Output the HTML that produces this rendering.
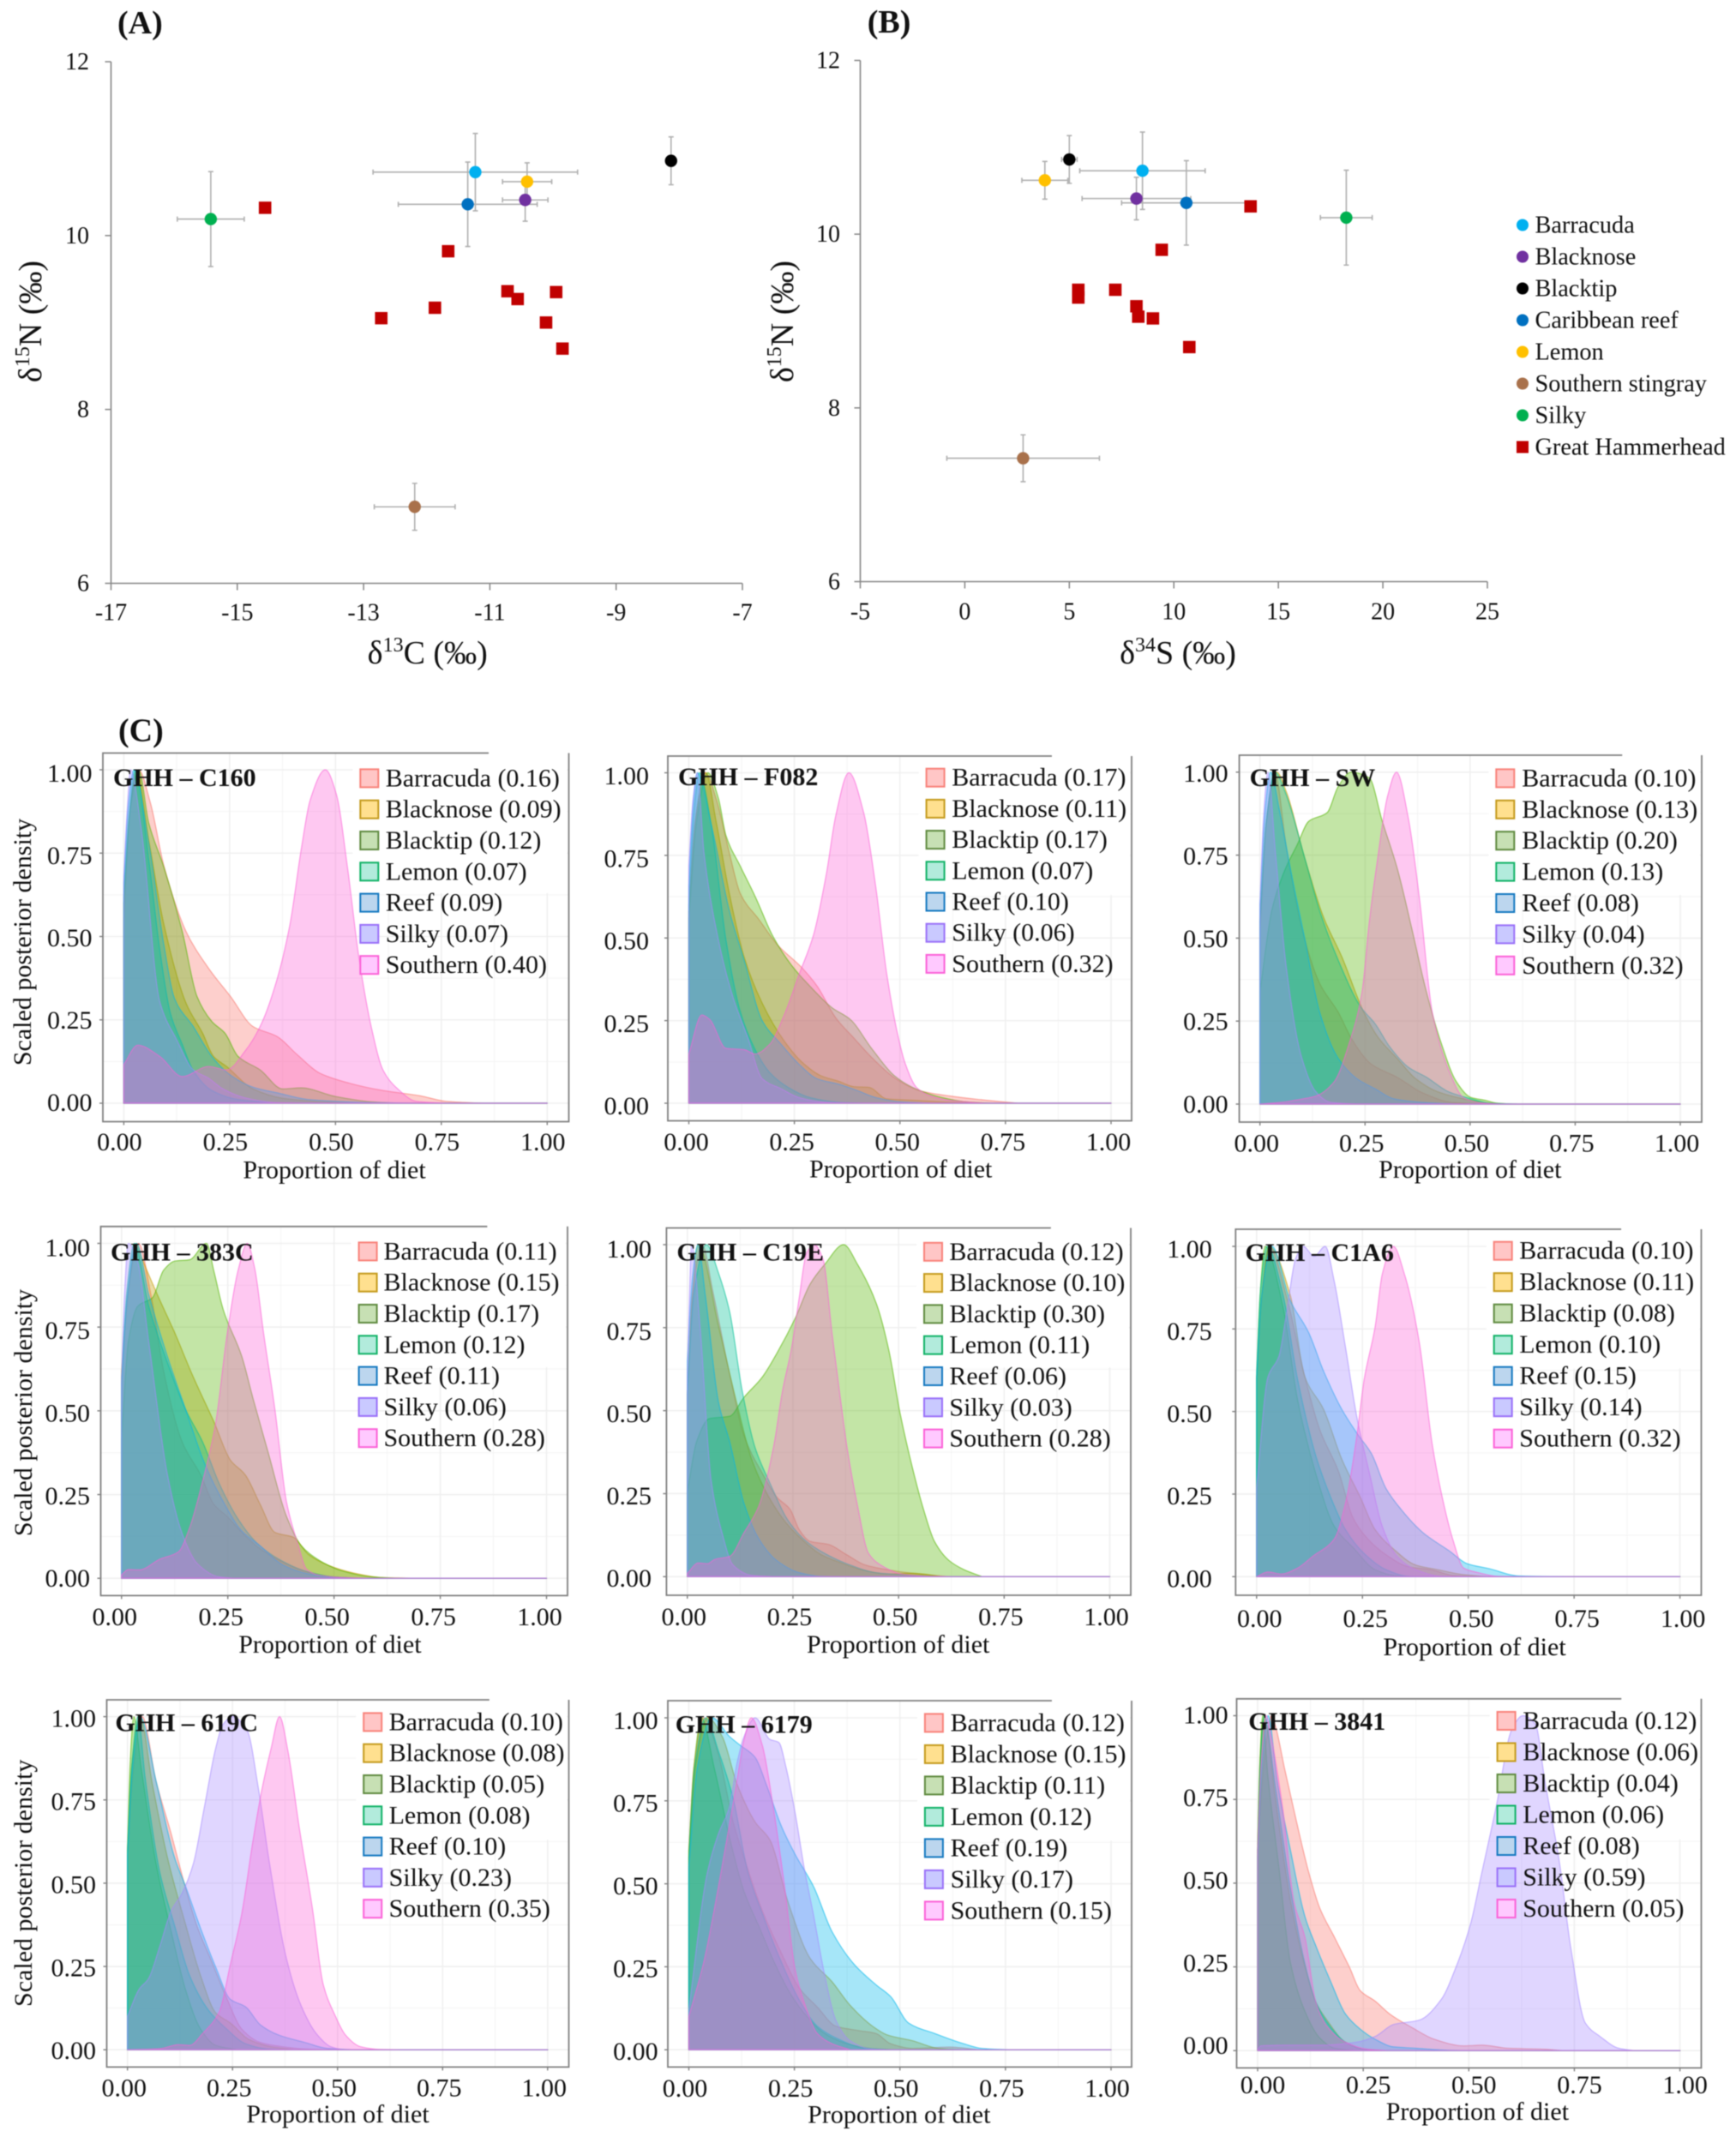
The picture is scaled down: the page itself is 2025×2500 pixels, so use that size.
<!DOCTYPE html>
<html lang="en">
<head>
<meta charset="utf-8">
<title>Great hammerhead isotope biplots and diet mixing model posteriors</title>
<style>
html,body{margin:0;padding:0;background:#fff;}
svg{display:block;filter:blur(0.45px);}
text{font-family:"Liberation Serif","Times New Roman",serif;fill:#111;}
</style>
</head>
<body>
<svg id="figure" xmlns="http://www.w3.org/2000/svg" width="2025" height="2500" viewBox="0 0 2025 2500">
<rect x="0" y="0" width="2025" height="2500" fill="#ffffff"/>
</svg>
<script>
/* ---------- Scatter data ---------- */
const preyNames = ["Barracuda","Blacknose","Blacktip","Caribbean reef","Lemon","Southern stingray","Silky"];
const preyColors = ["#00B0F0","#7030A0","#000000","#0070C0","#FFC000","#A9714B","#00B050"];
const preyD13C = [-11.23,-10.44,-8.13,-11.35,-10.41,-12.19,-15.42];
const preyD13CErr = [1.62,0.36,0,1.1,0.39,0.64,0.53];
const preyD34S = [8.5,8.21,5.0,10.6,3.83,2.79,18.25];
const preyD34SErr = [3.0,2.6,0.37,3.1,1.1,3.65,1.24];
const preyD15NA = [10.73,10.41,10.86,10.36,10.62,6.88,10.19];
const preyD15NB = [10.73,10.41,10.86,10.36,10.62,7.42,10.19];
const preyD15NErr = [0.445,0.245,0.275,0.486,0.217,0.27,0.546];
const hammerD13C = [-14.56,-11.66,-10.72,-10.56,-9.95,-11.87,-12.72,-10.11,-9.85];
const hammerD34S = [13.67,9.42,5.43,5.43,7.2,8.21,8.3,9.0,10.74];
const hammerD15NA = [10.32,9.82,9.36,9.27,9.35,9.17,9.05,9.0,8.7];
const hammerD15NB = [10.32,9.82,9.36,9.27,9.36,9.17,9.05,9.03,8.7];
const panelATicksX = [-17,-15,-13,-11,-9,-7];
const panelBTicksX = [-5,0,5,10,15,20,25];
const scatterTicksY = [6,8,10,12];
const scatterLegendNames = ["Barracuda","Blacknose","Blacktip","Caribbean reef","Lemon","Southern stingray","Silky","Great Hammerhead"];

/* ---------- Density panels: categories and shares ---------- */
const sourceNames = ["Barracuda","Blacknose","Blacktip","Lemon","Reef","Silky","Southern"];
const proportionTicks = [0,0.25,0.5,0.75,1];
const densityTicks = [0,0.25,0.5,0.75,1];
const sharesC160 = [0.16,0.09,0.12,0.07,0.09,0.07,0.40];
const sharesF082 = [0.17,0.11,0.17,0.07,0.10,0.06,0.32];
const sharesSW = [0.10,0.13,0.20,0.13,0.08,0.04,0.32];
const shares383C = [0.11,0.15,0.17,0.12,0.11,0.06,0.28];
const sharesC19E = [0.12,0.10,0.30,0.11,0.06,0.03,0.28];
const sharesC1A6 = [0.10,0.11,0.08,0.10,0.15,0.14,0.32];
const shares619C = [0.10,0.08,0.05,0.08,0.10,0.23,0.35];
const shares6179 = [0.12,0.15,0.11,0.12,0.19,0.17,0.15];
const shares3841 = [0.12,0.06,0.04,0.06,0.08,0.59,0.05];

/* ---------- Density curves, [proportion, scaled density] ---------- */
const c160Barracuda=[[0,.55],[.015,.88],[.035,1],[.063,.9],[.094,.716],[.147,.515],[.2,.405],[.252,.32],[.305,.23],[.362,.2],[.41,.145],[.463,.09],[.533,.06],[.603,.04],[.7,.022],[.76,.006],[.85,0]];
const c160Blacknose=[[0,.6],[.012,.85],[.03,1],[.059,.79],[.094,.54],[.147,.3],[.186,.21],[.212,.14],[.243,.11],[.305,.043],[.375,.015],[.45,.006],[.55,0]];
const c160Blacktip=[[0,.6],[.015,.88],[.035,1],[.059,.84],[.094,.71],[.138,.515],[.173,.32],[.208,.245],[.239,.21],[.27,.14],[.322,.1],[.375,.043],[.419,.046],[.5,.02],[.585,.004],[.65,0]];
const c160Lemon=[[0,.62],[.012,.85],[.027,1],[.059,.73],[.085,.46],[.11,.27],[.138,.176],[.164,.098],[.208,.038],[.27,.011],[.366,0]];
const c160Reef=[[0,.66],[.01,.88],[.024,1],[.059,.78],[.094,.48],[.12,.313],[.164,.23],[.208,.14],[.252,.084],[.305,.048],[.366,.03],[.436,.011],[.585,.002],[.7,0]];
const c160Silky=[[0,.68],[.008,.88],[.016,1],[.041,.826],[.085,.304],[.125,.19],[.164,.1],[.2,.075],[.234,.043],[.287,.016],[.357,.002],[.42,0]];
const c160Southern=[[0,.116],[.033,.174],[.085,.14],[.138,.08],[.2,.11],[.243,.1],[.287,.157],[.322,.23],[.357,.35],[.392,.533],[.419,.76],[.44,.908],[.476,1],[.502,.927],[.529,.7],[.555,.44],[.586,.22],[.612,.1],[.647,.043],[.69,.006],[.76,0]];

const f082Barracuda=[[0,.58],[.015,.85],[.04,1],[.065,.92],[.096,.757],[.122,.634],[.166,.556],[.209,.481],[.27,.407],[.304,.354],[.348,.258],[.391,.197],[.435,.136],[.495,.07],[.547,.038],[.617,.022],[.703,.009],[.78,0]];
const f082Blacknose=[[0,.58],[.015,.85],[.04,1],[.065,.85],[.096,.634],[.131,.442],[.174,.302],[.226,.188],[.27,.122],[.313,.083],[.356,.066],[.391,.05],[.426,.048],[.469,.013],[.53,.009],[.617,.003],[.7,0]];
const f082Blacktip=[[0,.56],[.018,.85],[.045,1],[.07,.923],[.088,.81],[.122,.717],[.157,.626],[.2,.503],[.244,.416],[.287,.354],[.339,.289],[.382,.254],[.435,.162],[.487,.083],[.53,.048],[.6,.017],[.66,.004],[.72,0]];
const f082Lemon=[[0,.6],[.012,.88],[.025,1],[.053,.844],[.088,.494],[.122,.276],[.157,.162],[.192,.092],[.235,.048],[.287,.017],[.356,.003],[.42,0]];
const f082Reef=[[0,.66],[.01,.9],[.02,1],[.053,.844],[.096,.582],[.131,.433],[.174,.249],[.218,.179],[.261,.118],[.304,.074],[.356,.057],[.4,.038],[.443,.017],[.504,.004],[.58,0]];
const f082Silky=[[0,.72],[.01,.92],[.02,1],[.036,.757],[.07,.494],[.105,.319],[.14,.197],[.174,.074],[.218,.044],[.261,.017],[.322,.003],[.4,0]];
const f082Southern=[[0,.149],[.031,.267],[.049,.254],[.088,.166],[.131,.162],[.157,.149],[.192,.179],[.226,.267],[.261,.389],[.296,.512],[.326,.696],[.348,.87],[.379,1],[.414,.88],[.443,.652],[.469,.389],[.495,.206],[.513,.118],[.539,.048],[.573,.022],[.617,.009],[.703,0]];

const swBarracuda=[[0,.52],[.015,.85],[.035,1],[.063,.773],[.098,.538],[.142,.364],[.186,.277],[.221,.19],[.265,.12],[.326,.081],[.388,.033],[.458,.005],[.55,0]];
const swBlacknose=[[0,.55],[.015,.85],[.04,1],[.063,.94],[.107,.739],[.151,.564],[.195,.443],[.247,.277],[.282,.199],[.326,.138],[.37,.077],[.423,.037],[.484,.016],[.546,.003],[.62,0]];
const swBlacktip=[[0,.338],[.028,.582],[.059,.704],[.089,.782],[.116,.852],[.16,.878],[.186,.956],[.217,1],[.26,.983],[.291,.852],[.326,.713],[.361,.53],[.396,.338],[.432,.181],[.467,.068],[.502,.02],[.537,.011],[.563,.003],[.6,0]];
const swLemon=[[0,.55],[.015,.85],[.036,1],[.06,.94],[.107,.739],[.142,.582],[.186,.434],[.239,.294],[.274,.242],[.309,.172],[.353,.111],[.396,.081],[.449,.037],[.502,.016],[.546,.003],[.62,0]];
const swReef=[[0,.6],[.012,.88],[.025,1],[.046,.887],[.072,.712],[.107,.495],[.142,.277],[.186,.138],[.23,.077],[.274,.046],[.318,.016],[.388,.005],[.47,0]];
const swSilky=[[0,.6],[.008,.85],[.019,1],[.037,.756],[.063,.408],[.098,.146],[.133,.037],[.168,.005],[.23,0]];
const swSouthern=[[0,0],[.063,.007],[.081,.011],[.133,.024],[.177,.068],[.212,.181],[.243,.338],[.26,.547],[.278,.721],[.304,.93],[.325,1],[.353,.861],[.379,.625],[.41,.277],[.449,.103],[.484,.02],[.519,.005],[.57,0]];

const c383Barracuda=[[0,.6],[.015,.85],[.04,1],[.07,.84],[.099,.618],[.143,.406],[.186,.309],[.217,.221],[.248,.185],[.283,.137],[.326,.088],[.379,.049],[.44,.018],[.5,.004],[.56,0]];
const c383Blacknose=[[0,.62],[.015,.85],[.035,1],[.046,.962],[.081,.856],[.125,.733],[.169,.6],[.217,.468],[.256,.353],[.291,.309],[.326,.221],[.361,.137],[.405,.122],[.44,.071],[.484,.04],[.545,.016],[.615,.002],[.7,0]];
const c383Blacktip=[[0,.415],[.016,.706],[.038,.812],[.073,.838],[.099,.92],[.125,.947],[.16,.951],[.2,1],[.217,.918],[.239,.803],[.283,.662],[.309,.538],[.344,.38],[.388,.185],[.423,.097],[.466,.053],[.519,.022],[.589,.004],[.65,0]];
const c383Lemon=[[0,.6],[.012,.85],[.03,1],[.064,.812],[.108,.644],[.151,.503],[.191,.406],[.23,.282],[.274,.177],[.318,.106],[.37,.057],[.431,.022],[.5,.004],[.56,0]];
const c383Reef=[[0,.58],[.012,.82],[.035,1],[.064,.847],[.108,.662],[.151,.503],[.195,.344],[.239,.229],[.283,.141],[.326,.097],[.379,.04],[.44,.013],[.5,.002],[.56,0]];
const c383Silky=[[0,.6],[.007,.85],[.016,1],[.038,.944],[.064,.706],[.108,.309],[.143,.132],[.178,.044],[.23,.004],[.265,0]];
const c383Southern=[[0,.01],[.016,.026],[.042,.025],[.09,.057],[.134,.079],[.16,.15],[.191,.291],[.221,.459],[.248,.724],[.274,.918],[.296,1],[.313,.927],[.335,.724],[.361,.503],[.388,.229],[.414,.106],[.436,.026],[.466,.009],[.528,.002],[.58,0]];

const c19eBarracuda=[[0,.55],[.012,.85],[.035,1],[.06,.86],[.1,.611],[.134,.425],[.178,.31],[.212,.239],[.243,.203],[.265,.141],[.291,.106],[.334,.097],[.377,.066],[.421,.035],[.473,.021],[.533,.01],[.62,0]];
const c19eBlacknose=[[0,.55],[.012,.85],[.026,1],[.074,.753],[.117,.523],[.152,.354],[.186,.256],[.23,.168],[.273,.11],[.317,.066],[.36,.043],[.412,.021],[.473,.008],[.533,.01],[.603,0]];
const c19eBlacktip=[[0,.256],[.022,.407],[.052,.476],[.1,.483],[.134,.54],[.178,.602],[.212,.673],[.256,.78],[.291,.882],[.325,.94],[.37,1],[.403,.94],[.447,.824],[.477,.682],[.503,.496],[.533,.327],[.559,.203],[.585,.106],[.62,.048],[.655,.021],[.698,0]];
const c19eLemon=[[0,.55],[.015,.85],[.045,1],[.074,.913],[.1,.798],[.13,.558],[.16,.39],[.195,.283],[.239,.168],[.282,.106],[.325,.07],[.377,.039],[.447,.012],[.533,.004],[.6,0]];
const c19eReef=[[0,.65],[.012,.9],[.025,1],[.043,.842],[.074,.523],[.1,.407],[.134,.221],[.169,.114],[.212,.048],[.265,.012],[.317,.001],[.37,0]];
const c19eSilky=[[0,.6],[.005,.85],[.01,1],[.03,.753],[.056,.292],[.082,.132],[.108,.035],[.152,.004],[.2,0]];
const c19eSouthern=[[0,.01],[.026,.041],[.048,.039],[.065,.052],[.1,.061],[.134,.132],[.169,.212],[.204,.39],[.225,.558],[.247,.691],[.265,.842],[.282,.974],[.3,1],[.321,.957],[.343,.727],[.36,.558],[.377,.398],[.403,.212],[.429,.07],[.464,.03],[.507,.008],[.577,.001],[.63,0]];

const c1a6Barracuda=[[0,.6],[.012,.85],[.03,1],[.071,.846],[.114,.605],[.149,.445],[.193,.32],[.228,.177],[.262,.115],[.306,.066],[.358,.03],[.411,.021],[.463,.004],[.52,0]];
const c1a6Blacknose=[[0,.6],[.012,.85],[.03,1],[.079,.855],[.114,.605],[.158,.507],[.201,.356],[.245,.24],[.28,.142],[.323,.084],[.376,.035],[.428,.021],[.489,.006],[.55,0]];
const c1a6Blacktip=[[0,.6],[.008,.85],[.02,1],[.062,.819],[.097,.534],[.14,.311],[.184,.151],[.228,.088],[.28,.021],[.323,.004],[.37,0]];
const c1a6Lemon=[[0,.62],[.01,.88],[.025,1],[.062,.855],[.097,.596],[.14,.365],[.175,.24],[.21,.142],[.254,.07],[.306,.021],[.358,.001],[.4,0]];
const c1a6Reef=[[0,.6],[.012,.85],[.036,1],[.079,.837],[.123,.739],[.158,.623],[.201,.507],[.241,.427],[.271,.373],[.306,.266],[.341,.204],[.393,.133],[.454,.079],[.498,.039],[.55,.024],[.62,.002],[.74,0]];
const c1a6Silky=[[0,.27],[.027,.605],[.053,.668],[.071,.801],[.092,.962],[.11,1],[.136,.97],[.162,1],[.184,.89],[.21,.694],[.236,.489],[.267,.311],[.297,.151],[.332,.061],[.376,.021],[.437,.001],[.5,0]];
const c1a6Southern=[[0,0],[.027,.014],[.058,.008],[.097,.026],[.132,.061],[.184,.115],[.21,.222],[.236,.418],[.254,.596],[.28,.757],[.297,.917],[.323,1],[.349,.917],[.384,.712],[.415,.4],[.437,.249],[.463,.115],[.489,.026],[.524,.012],[.568,.001],[.62,0]];

const c619Barracuda=[[0,.58],[.012,.82],[.035,1],[.068,.807],[.104,.648],[.13,.524],[.165,.373],[.2,.266],[.236,.155],[.272,.062],[.316,.022],[.369,.009],[.422,.002],[.47,0]];
const c619Blacknose=[[0,.6],[.01,.85],[.03,1],[.059,.799],[.095,.577],[.139,.373],[.174,.222],[.21,.111],[.245,.08],[.289,.031],[.342,.009],[.4,0]];
const c619Blacktip=[[0,.6],[.006,.85],[.015,1],[.033,.843],[.068,.559],[.104,.355],[.139,.177],[.174,.062],[.21,.013],[.26,0]];
const c619Lemon=[[0,.6],[.01,.85],[.025,1],[.042,.816],[.077,.532],[.112,.373],[.148,.222],[.192,.12],[.236,.062],[.281,.018],[.334,.002],[.38,0]];
const c619Reef=[[0,.58],[.012,.85],[.03,1],[.068,.807],[.112,.577],[.139,.488],[.174,.364],[.21,.248],[.245,.151],[.281,.129],[.316,.075],[.36,.044],[.422,.022],[.475,.004],[.54,0]];
const c619Silky=[[0,.1],[.028,.182],[.05,.213],[.077,.31],[.104,.417],[.13,.47],[.157,.559],[.183,.728],[.21,.905],[.227,.976],[.25,1],[.285,.958],[.312,.781],[.338,.559],[.378,.275],[.413,.133],[.449,.049],[.484,.009],[.51,0]];
const c619Southern=[[0,0],[.077,.003],[.121,.015],[.148,.013],[.179,.049],[.219,.115],[.245,.257],[.272,.408],[.298,.621],[.32,.781],[.342,.905],[.362,1],[.382,.896],[.409,.665],[.44,.426],[.466,.195],[.493,.106],[.519,.044],[.555,.009],[.6,.001],[.65,0]];

const c6179Barracuda=[[0,.6],[.012,.85],[.035,1],[.07,.89],[.105,.686],[.14,.543],[.174,.419],[.218,.294],[.261,.187],[.304,.129],[.348,.071],[.4,.058],[.443,.049],[.478,.018],[.53,.004],[.617,.008],[.686,0]];
const c6179Blacknose=[[0,.58],[.015,.85],[.045,1],[.079,.944],[.114,.801],[.157,.686],[.192,.632],[.235,.445],[.287,.276],[.339,.205],[.382,.134],[.435,.071],[.469,.045],[.53,.027],[.591,.004],[.65,0]];
const c6179Blacktip=[[0,.6],[.012,.85],[.03,1],[.06,.85],[.1,.62],[.13,.48],[.17,.36],[.2,.27],[.24,.17],[.28,.1],[.32,.05],[.37,.02],[.43,.004],[.48,0]];
const c6179Lemon=[[0,.58],[.014,.85],[.04,1],[.07,.9],[.105,.757],[.14,.534],[.174,.41],[.218,.267],[.261,.151],[.304,.071],[.356,.031],[.417,.004],[.48,0]];
const c6179Reef=[[0,.55],[.02,.85],[.055,1],[.096,.944],[.122,.917],[.157,.881],[.183,.801],[.218,.677],[.252,.588],[.296,.49],[.339,.356],[.391,.258],[.443,.196],[.478,.16],[.521,.08],[.582,.049],[.651,.018],[.695,.004],[.764,0]];
const c6179Silky=[[0,.12],[.044,.534],[.07,.65],[.096,.73],[.114,.862],[.131,.944],[.157,1],[.192,.935],[.213,.926],[.231,.846],[.252,.712],[.274,.543],[.296,.401],[.322,.223],[.348,.089],[.382,.027],[.426,.004],[.47,0]];
const c6179Southern=[[0,.1],[.036,.267],[.07,.49],[.096,.677],[.114,.81],[.131,.935],[.148,1],[.174,.917],[.2,.73],[.226,.499],[.252,.24],[.278,.125],[.304,.049],[.339,.018],[.382,0]];

const c3841Barracuda=[[0,.6],[.014,.85],[.033,1],[.042,.97],[.064,.841],[.094,.673],[.121,.532],[.147,.426],[.182,.338],[.217,.25],[.243,.179],[.278,.148],[.313,.109],[.365,.069],[.418,.034],[.488,.014],[.531,.016],[.593,.007],[.68,.004],[.724,0]];
const c3841Blacknose=[[0,.62],[.006,.88],[.015,1],[.042,.753],[.077,.453],[.112,.25],[.138,.144],[.164,.091],[.208,.025],[.252,.004],[.3,0]];
const c3841Blacktip=[[0,.6],[.005,.85],[.012,1],[.024,.823],[.051,.541],[.077,.267],[.112,.117],[.147,.038],[.182,.007],[.23,0]];
const c3841Lemon=[[0,.6],[.006,.85],[.015,1],[.042,.788],[.077,.488],[.112,.259],[.138,.144],[.173,.069],[.208,.025],[.252,.004],[.3,0]];
const c3841Reef=[[0,.58],[.01,.85],[.025,1],[.046,.806],[.077,.603],[.112,.4],[.138,.312],[.173,.206],[.208,.109],[.243,.064],[.278,.034],[.322,.011],[.374,.007],[.453,.001],[.5,0]];
const c3841Silky=[[0,0],[.007,.014],[.077,.016],[.156,.016],[.234,.025],[.278,.042],[.322,.078],[.383,.091],[.435,.153],[.47,.25],[.505,.382],[.531,.532],[.566,.735],[.601,.956],[.628,1],[.658,.974],[.68,.806],[.715,.559],[.741,.312],[.776,.082],[.811,.042],[.855,.007],[.89,0]];
const c3841Southern=[[0,.6],[.008,.85],[.02,1],[.03,.95],[.059,.726],[.086,.444],[.112,.338],[.138,.144],[.164,.073],[.208,.025],[.26,.004],[.31,0]];

const seriesC160=[c160Barracuda,c160Blacknose,c160Blacktip,c160Lemon,c160Reef,c160Silky,c160Southern];
const seriesF082=[f082Barracuda,f082Blacknose,f082Blacktip,f082Lemon,f082Reef,f082Silky,f082Southern];
const seriesSW=[swBarracuda,swBlacknose,swBlacktip,swLemon,swReef,swSilky,swSouthern];
const series383C=[c383Barracuda,c383Blacknose,c383Blacktip,c383Lemon,c383Reef,c383Silky,c383Southern];
const seriesC19E=[c19eBarracuda,c19eBlacknose,c19eBlacktip,c19eLemon,c19eReef,c19eSilky,c19eSouthern];
const seriesC1A6=[c1a6Barracuda,c1a6Blacknose,c1a6Blacktip,c1a6Lemon,c1a6Reef,c1a6Silky,c1a6Southern];
const series619C=[c619Barracuda,c619Blacknose,c619Blacktip,c619Lemon,c619Reef,c619Silky,c619Southern];
const series6179=[c6179Barracuda,c6179Blacknose,c6179Blacktip,c6179Lemon,c6179Reef,c6179Silky,c6179Southern];
const series3841=[c3841Barracuda,c3841Blacknose,c3841Blacktip,c3841Lemon,c3841Reef,c3841Silky,c3841Southern];

/* ---------- Styles and layout (not data) ---------- */
const sourceColors=["#F8766D","#C49A00","#53B400","#00C094","#00B6EB","#A58AFF","#FB61D7"];
const keyStrokes=["#f8827a","#c49a1c","#5f8a3f","#10b266","#1478c0","#9a70f8","#fb61d7"];
const keyFills=["#ffc6c6","#ffe08f","#c7e0b4","#b2ebdc","#bcd6ee","#c9c9ff","#ffc9ff"];
const panels=[
 {id:"C160",title:"GHH – C160",series:seriesC160,shares:sharesC160,l:120,r:663.5,t:878.5,b:1308.5,x0:144.4,x1:638.3,y1:898,y0:1287,ldx:-5,xlb:1342,yr:107.5,yT:4,yB:-1,kx:419.3,kt:896.4,kp:36.3,tx:449.7,ttx:132,tty:917,xtx:390,xty:1374.5,ytx:36,yty:1099},
 {id:"F082",title:"GHH – F082",series:seriesF082,shares:sharesF082,l:779,r:1320,t:882,b:1307.5,x0:803.5,x1:1296,y1:901.5,y0:1287,ldx:-3,xlb:1342,yr:757,yT:3.7,yB:3,kx:1079.6,kt:895.7,kp:36.2,tx:1110.3,ttx:791,tty:916,xtx:1050.7,xty:1373.3},
 {id:"SW",title:"GHH – SW",series:seriesSW,shares:sharesSW,l:1445.6,r:1985,t:881,b:1309,x0:1469.7,x1:1960,y1:900.8,y0:1288,ldx:-4,xlb:1343.5,yr:1432.6,yT:1,yB:0,kx:1744.3,kt:896.4,kp:36.4,tx:1775.3,ttx:1457.6,tty:917,xtx:1714.8,xty:1374},
 {id:"383C",title:"GHH – 383C",series:series383C,shares:shares383C,l:117.5,r:662,t:1430.8,b:1861.4,x0:141.8,x1:637.5,y1:1450.5,y0:1841.2,ldx:-8,xlb:1896,yr:105,yT:5,yB:0,kx:417.6,kt:1448.4,kp:36.3,tx:447.5,ttx:129,tty:1470.6,xtx:384.9,xty:1928,ytx:37,yty:1648},
 {id:"C19E",title:"GHH – C19E",series:seriesC19E,shares:sharesC19E,l:777.4,r:1319,t:1432.5,b:1861,x0:801.8,x1:1294.5,y1:1452,y0:1839.3,ldx:-4,xlb:1896,yr:760,yT:5,yB:1.7,kx:1077,kt:1448.8,kp:36.3,tx:1107.4,ttx:789.4,tty:1470.6,xtx:1047.7,xty:1928},
 {id:"C1A6",title:"GHH – C1A6",series:seriesC1A6,shares:sharesC1A6,l:1441.3,r:1984.5,t:1434,b:1861,x0:1465.8,x1:1959.6,y1:1454,y0:1839.3,ldx:3.5,xlb:1897.8,yr:1413.7,yT:3,yB:2,kx:1741.7,kt:1447.7,kp:36.5,tx:1772.3,ttx:1452.5,tty:1471,xtx:1720,xty:1931},
 {id:"619C",title:"GHH – 619C",series:series619C,shares:shares619C,l:124.5,r:663.5,t:1983,b:2411.4,x0:148.7,x1:638.8,y1:2002.6,y0:2391.2,ldx:-4,xlb:2445.5,yr:112,yT:2,yB:1,kx:423.2,kt:1997.4,kp:36.3,tx:453.6,ttx:134.4,tty:2019.5,xtx:394,xty:2476,ytx:37,yty:2196.8},
 {id:"6179",title:"GHH – 6179",series:series6179,shares:shares6179,l:779,r:1320,t:1984,b:2411.4,x0:803.5,x1:1296,y1:2004,y0:2391.2,ldx:-4.5,xlb:2445.9,yr:767.6,yT:3,yB:2,kx:1077.9,kt:1998.4,kp:36.5,tx:1108.6,ttx:787.7,tty:2021.6,xtx:1048.8,xty:2476.5},
 {id:"3841",title:"GHH – 3841",series:series3841,shares:shares3841,l:1442.5,r:1984.5,t:1981.8,b:2412.4,x0:1467,x1:1959.6,y1:2001.5,y0:2392.2,ldx:6,xlb:2442,yr:1432.6,yT:-1,yB:-6,kx:1745.6,kt:1996,kp:36.5,tx:1776.2,ttx:1456.3,tty:2017.8,xtx:1723.4,xty:2473.2}
];

const NS="http://www.w3.org/2000/svg";
const root=document.getElementById("figure");
function mk(tag,parent,attrs,txt){
  const e=document.createElementNS(NS,tag);
  for(const k in attrs){e.setAttribute(k,attrs[k]);}
  if(txt!==undefined){e.textContent=txt;}
  parent.appendChild(e);
  return e;
}
function linear(v,d0,d1,r0,r1){return r0+(v-d0)/(d1-d0)*(r1-r0);}

/* monotone cubic path through pixel points */
function monotonePath(pts){
  const n=pts.length;
  const dx=[],m=[],t=new Array(n);
  for(let i=0;i<n-1;i++){dx[i]=pts[i+1][0]-pts[i][0];m[i]=(pts[i+1][1]-pts[i][1])/dx[i];}
  t[0]=m[0];t[n-1]=m[n-2];
  for(let i=1;i<n-1;i++){
    if(m[i-1]*m[i]<=0){t[i]=0;}
    else{
      const w1=2*dx[i]+dx[i-1],w2=dx[i]+2*dx[i-1];
      t[i]=(w1+w2)/(w1/m[i-1]+w2/m[i]);
    }
  }
  let d="";
  for(let i=0;i<n-1;i++){
    const h=dx[i]/3;
    d+="C"+(pts[i][0]+h).toFixed(1)+" "+(pts[i][1]+t[i]*h).toFixed(1)+" "+(pts[i+1][0]-h).toFixed(1)+" "+(pts[i+1][1]-t[i+1]*h).toFixed(1)+" "+pts[i+1][0].toFixed(1)+" "+pts[i+1][1].toFixed(1);
  }
  return d;
}

/* panel letters */
[["(A)",137,39],["(B)",1011.7,38],["(C)",138,864.5]].forEach(function(p){
  const el=mk("text",root,{x:p[1],y:p[2],"font-size":38,"font-weight":"bold"},p[0]);
  
  
});

/* scatter panels */
function isoTitle(parent,x,y,sup,elem,rot){
  const a={x:x,y:y,"font-size":38,"text-anchor":"middle"};
  if(rot){a.transform="rotate(-90 "+x+" "+y+")";}
  const t=mk("text",parent,a);
  mk("tspan",t,{},"δ");
  mk("tspan",t,{"font-size":24,dy:-14},sup);
  mk("tspan",t,{dy:14},elem+" (‰)");
  return t;
}
function drawScatter(cfg){
  const g=mk("g",root,{});
  
  
  const sx=function(v){return linear(v,cfg.xd[0],cfg.xd[1],cfg.xr[0],cfg.xr[1]);};
  const sy=function(v){return linear(v,6,12,cfg.yr[0],cfg.yr[1]);};
  const axis=mk("path",g,{d:"M"+cfg.xr[0]+" "+cfg.yr[1]+"V"+cfg.yr[0]+"H"+cfg.xr[1],fill:"none",stroke:"#868686","stroke-width":1.6});
  
  
  cfg.xticks.forEach(function(v){
    const tk=mk("line",g,{x1:sx(v),x2:sx(v),y1:cfg.yr[0],y2:cfg.yr[0]+8,stroke:"#868686","stroke-width":1.5});
    
    
    const lb=mk("text",g,{x:sx(v),y:cfg.xlb,"font-size":28,"text-anchor":"middle"},String(v));
    
    
  });
  scatterTicksY.forEach(function(v){
    const tk=mk("line",g,{x1:cfg.xr[0]-7,x2:cfg.xr[0],y1:sy(v),y2:sy(v),stroke:"#868686","stroke-width":1.5});
    
    
    const lb=mk("text",g,{x:cfg.ylr,y:sy(v)+9,"font-size":28,"text-anchor":"end"},String(v));
    
    
  });
  const xt=isoTitle(g,cfg.xtx,774,cfg.sup,cfg.el,false);
  
  
  const yt=isoTitle(g,cfg.ytx,375,"15","N",true);
  
  
  preyNames.forEach(function(name,i){
    const px=sx(cfg.xs[i]),py=sy(cfg.ys[i]);
    const xa=sx(cfg.xs[i]-cfg.xe[i]),xb=sx(cfg.xs[i]+cfg.xe[i]);
    const ya=sy(cfg.ys[i]-preyD15NErr[i]),yb=sy(cfg.ys[i]+preyD15NErr[i]);
    const d="M"+xa+" "+py+"H"+xb+"M"+xa+" "+(py-3)+"v6M"+xb+" "+(py-3)+"v6M"+px+" "+ya+"V"+yb+"M"+(px-3)+" "+ya+"h6M"+(px-3)+" "+yb+"h6";
    const eb=mk("path",g,{d:d,fill:"none",stroke:"#b0b0b0","stroke-width":1.6});
    
    
  });
  preyNames.forEach(function(name,i){
    const c=mk("circle",g,{cx:sx(cfg.xs[i]),cy:sy(cfg.ys[i]),r:7.2,fill:preyColors[i]});
    
    
  });
  cfg.hx.forEach(function(v,i){
    const s=mk("rect",g,{x:sx(v)-7.3,y:sy(cfg.hy[i])-7.2,width:14.6,height:14.4,fill:"#C00000"});
    
    
  });
}
drawScatter({key:"a",xd:[-17,-7],xr:[129.5,866],yr:[680.5,72],xticks:panelATicksX,xlb:723.6,ylr:104,xtx:498.7,ytx:48,sup:"13",el:"C",xs:preyD13C,ys:preyD15NA,xe:preyD13CErr,hx:hammerD13C,hy:hammerD15NA});
drawScatter({key:"b",xd:[-5,25],xr:[1003.5,1735],yr:[678.5,70.5],xticks:panelBTicksX,xlb:722.5,ylr:980,xtx:1374,ytx:925,sup:"34",el:"S",xs:preyD34S,ys:preyD15NB,xe:preyD34SErr,hx:hammerD34S,hy:hammerD15NB});

/* scatter legend */
const scatterLegend=mk("g",root,{});


scatterLegendNames.forEach(function(name,i){
  const yc=262.5+i*37;
  let mark;
  if(i<7){mark=mk("circle",scatterLegend,{cx:1776,cy:yc,r:7,fill:preyColors[i]});}
  else{mark=mk("rect",scatterLegend,{x:1769,y:yc-7,width:14,height:14,fill:"#C00000"});}
  
  
  const t=mk("text",scatterLegend,{x:1790.5,y:yc+9,"font-size":28.3},name);
  
  
});

/* density panels */
panels.forEach(function(p){
  const g=mk("g",root,{});
  
  
  const sx=function(v){return linear(v,0,1,p.x0,p.x1);};
  const sy=function(v){return linear(v,0,1,p.y0,p.y1);};
  [0.125,0.375,0.625,0.875].forEach(function(v){
    const a=mk("line",g,{x1:sx(v),x2:sx(v),y1:p.t,y2:p.b,stroke:"#f4f4f4","stroke-width":1});
    
    
    const b=mk("line",g,{x1:p.l,x2:p.r,y1:sy(v),y2:sy(v),stroke:"#f4f4f4","stroke-width":1});
    
    
  });
  proportionTicks.forEach(function(v){
    const a=mk("line",g,{x1:sx(v),x2:sx(v),y1:p.t,y2:p.b,stroke:"#f0f0f0","stroke-width":1.6});
    
    
  });
  densityTicks.forEach(function(v){
    const b=mk("line",g,{x1:p.l,x2:p.r,y1:sy(v),y2:sy(v),stroke:"#f0f0f0","stroke-width":1.6});
    
    
  });
  const mask=mk("rect",g,{x:p.kx-8,y:p.t-2,width:p.r-p.kx+6,height:sy(0.625)-p.t+0,fill:"#ffffff"});
  
  
  p.series.forEach(function(curve,i){
    const pts=curve.map(function(q){return [sx(q[0]),sy(q[1])];});
    const d="M"+sx(0).toFixed(1)+" "+p.y0+"L"+pts[0][0].toFixed(1)+" "+pts[0][1].toFixed(1)+monotonePath(pts)+"L"+sx(1).toFixed(1)+" "+p.y0+"Z";
    const path=mk("path",g,{d:d,fill:sourceColors[i],"fill-opacity":0.35,stroke:sourceColors[i],"stroke-opacity":0.6,"stroke-width":1.2,"stroke-linejoin":"round"});
    
    
  });
  const frame=mk("path",g,{d:"M"+(p.l+(p.r-p.l)*0.828)+" "+p.t+"H"+p.l+"V"+p.b+"H"+p.r+"V"+p.t,fill:"none",stroke:"#808080","stroke-width":1.8});
  
  
  proportionTicks.forEach(function(v){
    const tk=mk("line",g,{x1:sx(v),x2:sx(v),y1:p.b,y2:p.b+4,stroke:"#808080","stroke-width":1.4});
    
    
    const lb=mk("text",g,{x:sx(v)+p.ldx,y:p.xlb,"font-size":30,"text-anchor":"middle"},v.toFixed(2));
    
    
  });
  densityTicks.forEach(function(v){
    const tk=mk("line",g,{x1:p.l-4,x2:p.l,y1:sy(v),y2:sy(v),stroke:"#808080","stroke-width":1.4});
    
    
    const lb=mk("text",g,{x:p.yr,y:sy(v)+10+p.yB+(p.yT-p.yB)*v,"font-size":30,"text-anchor":"end"},v.toFixed(2));
    
    
  });
  const xt=mk("text",g,{x:p.xtx,y:p.xty,"font-size":30,"text-anchor":"middle"},"Proportion of diet");
  
  
  if(p.ytx){
    const yt=mk("text",g,{x:p.ytx,y:p.yty,"font-size":30,"text-anchor":"middle",transform:"rotate(-90 "+p.ytx+" "+p.yty+")"},"Scaled posterior density");
    
    
  }
  const tt=mk("text",g,{x:p.ttx,y:p.tty,"font-size":30,"font-weight":"bold"},p.title);
  
  
  sourceNames.forEach(function(name,i){
    const ky=p.kt+i*p.kp;
    const key=mk("rect",g,{x:p.kx+1,y:ky+1,width:21,height:21,fill:keyFills[i],stroke:keyStrokes[i],"stroke-width":2});
    
    
    const lb=mk("text",g,{x:p.tx,y:ky+21,"font-size":30},name+" ("+p.shares[i].toFixed(2)+")");
    
    
  });
});
</script>
</body>
</html>
